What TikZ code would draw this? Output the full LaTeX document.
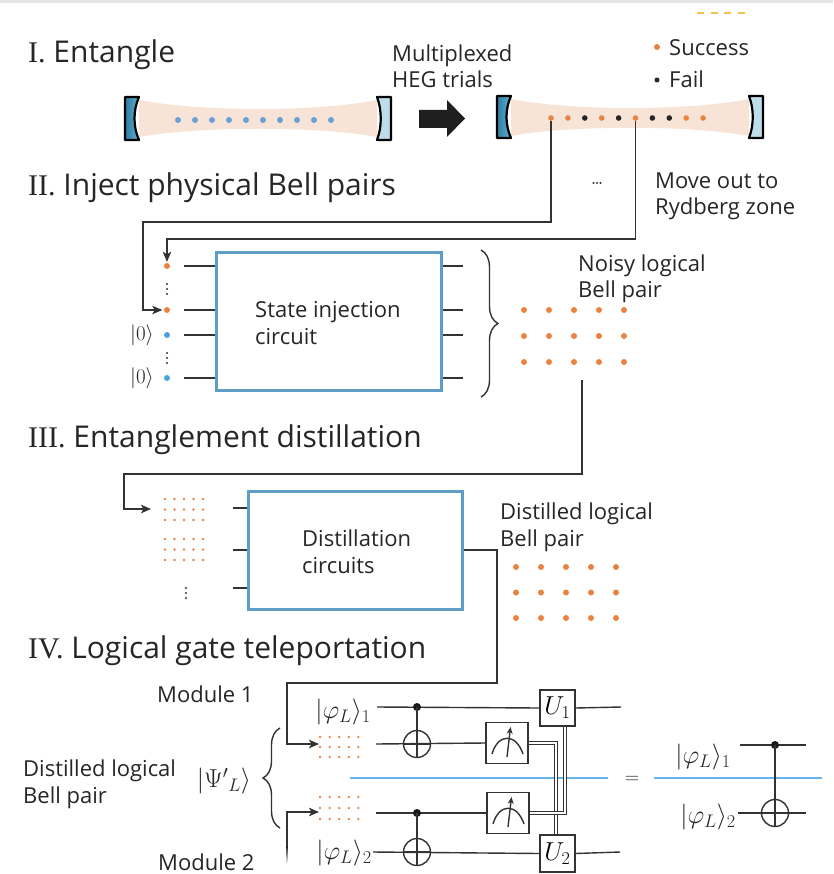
\RequirePackage{fix-cm}
\documentclass[tikz,border=0pt]{standalone}
\usepackage{fontspec}
\setmainfont{Open Sans}
\newfontfamily\romfont{Liberation Serif}
\usetikzlibrary{arrows.meta,decorations.pathreplacing,calc}

\definecolor{dotorange}{HTML}{E8843F}
\definecolor{dotblue}{HTML}{6A9FD6}
\definecolor{zeroblue}{HTML}{4DA3E0}
\definecolor{beam}{HTML}{F7E4D6}
\definecolor{mirdark}{HTML}{2F7BA6}
\definecolor{mirmid}{HTML}{5DB2CC}
\definecolor{mirlight}{HTML}{BEDDEB}
\definecolor{boxblue}{HTML}{5E9DC5}
\definecolor{splitblue}{HTML}{64B4EE}
\definecolor{linegray}{HTML}{333333}
\definecolor{textgray}{HTML}{262626}
\definecolor{gold}{HTML}{F2C14E}

\newcommand\hdfont{\fontsize{30}{34}\selectfont}
\newcommand\txfont{\fontsize{22}{26.5}\selectfont}
\newcommand\mthfont{\fontsize{26}{30}\selectfont}

\begin{document}
\begin{tikzpicture}[x=1pt,y=-1pt,
  odot/.style={circle, fill=dotorange, inner sep=0pt, minimum size=6pt},
  bdot/.style={circle, fill=dotblue, inner sep=0pt, minimum size=6pt},
  zdot/.style={circle, fill=zeroblue, inner sep=0pt, minimum size=6pt},
  kdot/.style={circle, fill=black!85, inner sep=0pt, minimum size=5pt},
  sdot/.style={circle, fill=dotorange, inner sep=0pt, minimum size=2.6pt},
  vdot/.style={circle, fill=linegray, inner sep=0pt, minimum size=2.4pt},
  conn/.style={draw=linegray, line width=1.4pt, -{Stealth[length=10pt,width=8.5pt,inset=2.5pt]}},
  wire/.style={draw=linegray, line width=1.4pt},
  cwire/.style={draw=linegray, line width=0.7pt, double=white, double distance=2pt},
  bigbox/.style={draw=boxblue, line width=3pt, fill=white, inner sep=0pt},
  gatebox/.style={draw=linegray, line width=1.4pt, fill=white, inner sep=0pt, font=\mthfont},
  ctrl/.style={circle, fill=black!90, inner sep=0pt, minimum size=8pt},
  targ/.style={circle, draw=linegray, line width=1.4pt, inner sep=0pt, minimum size=27pt},
  txt/.style={font=\txfont, text=textgray, inner sep=0pt, anchor=base west},
  hd/.style={font=\hdfont, text=textgray, inner sep=0pt, anchor=base west},
  mth/.style={font=\mthfont, text=textgray, inner sep=0pt},
  mirror/.style={draw=black, line width=2.2pt, line join=round},
  brc/.style={draw=linegray, line width=1.4pt, decorate, decoration={brace, amplitude=17pt, aspect=0.5}},
]
\useasboundingbox (0,0) rectangle (833,874);
\fill[white] (0,0) rectangle (833,874);
\draw[black!10, line width=2.5pt] (0,1.5) -- (833,1.5);
\draw[gold, line width=1.6pt, dash pattern=on 7pt off 6.7pt] (697,13) -- (746,13);

% ---------- I. Entangle ----------
\node[hd] (h1) at (28,63) {{\romfont I.} Entangle};

% first cavity: beam, mirrors, atoms
\fill[beam] (139,100) .. controls (200,112) and (318,112) .. (377,100)
   -- (377,137) .. controls (318,126) and (200,126) .. (139,137) -- cycle;
\filldraw[mirror, left color=mirdark, right color=mirmid]
   (125,97) -- (139,97) .. controls (133,110) and (133,127) .. (139,140) -- (125,140) -- cycle;
\filldraw[mirror, fill=mirlight]
   (377,97) -- (391,97) -- (391,140) -- (377,140) .. controls (382,127) and (382,110) .. (377,97) -- cycle;
\foreach \i in {0,...,9} \node[bdot] (a\i) at ({178+17*\i},120) {};

% multiplexing arrow
\node[txt, align=left] (heg) at (392,88) {Multiplexed\\HEG trials};
\fill[black!88] (419,110) -- (447,110) -- (447,100) -- (465,118.5) -- (447,137) -- (447,128) -- (419,128) -- cycle;

% second cavity with heralded outcomes
\fill[beam] (511,99) .. controls (570,111) and (690,111) .. (749,99)
   -- (749,136) .. controls (690,125) and (570,125) .. (511,136) -- cycle;
\filldraw[mirror, left color=mirdark, right color=mirmid]
   (497,96) -- (511,96) .. controls (505,109) and (505,125) .. (511,138) -- (497,138) -- cycle;
\filldraw[mirror, fill=mirlight]
   (749,96) -- (763,96) -- (763,138) -- (749,138) .. controls (754,125) and (754,109) .. (749,96) -- cycle;
\foreach \col [count=\i from 0] in {dotorange,dotorange,black!85,dotorange,black!85,dotorange,black!85,black!85,dotorange,dotorange}
  \node[circle, fill=\col, inner sep=0pt, minimum size=5.6pt] (r\i) at ({551+16.9*\i},118) {};

% legend
\node[odot] (lgo) at (657,47) {};
\node[txt] (lsucc) at (669,56) {Success};
\node[kdot] (lgk) at (657,80) {};
\node[txt] (lfail) at (669,88) {Fail};

% ---------- II. Inject physical Bell pairs ----------
\node[hd] (h2) at (28,196) {{\romfont II.} Inject physical Bell pairs};
\foreach \j in {0,1,2} \node[vdot] (ell\j) at ({593.5+3.5*\j},183) {};
\node[txt, align=left] (move) at (655,215) {Move out to\\Rydberg zone};

% input qubits of the injection circuit
\node[odot] (in1) at (167,266) {};
\node[odot] (in2) at (167,310) {};
\node[zdot] (in3) at (167,335) {};
\node[zdot] (in4) at (167,378) {};
\foreach \j in {0,1,2} {
  \node[vdot] (va\j) at (167,{284+5*\j}) {};
  \node[vdot] (vb\j) at (167,{353+5*\j}) {};
}
\node[font=\fontsize{21}{24}\selectfont, text=textgray, anchor=east, inner sep=0pt] (z1) at (154,335) {$|0\rangle$};
\node[font=\fontsize{21}{24}\selectfont, text=textgray, anchor=east, inner sep=0pt] (z2) at (154,378) {$|0\rangle$};

\node[bigbox, minimum width=225pt, minimum height=137pt] (sib) at (328.5,321.5) {};
\node[txt, align=left] (sit) at (255,344) {State injection\\circuit};
\foreach \y in {266,310,335,378} {
  \draw[wire] (184,\y) -- (sib.west |- 0,\y);
  \draw[wire] (sib.east |- 0,\y) -- (463,\y);
}
\draw[brc] (481,250) -- (481,397);

% routing of successful pairs
\coordinate (k1) at (143,222);
\coordinate (k2) at (167,239);
\draw[conn, shorten >=1.5pt] (r0.south) |- (k1) |- (in2.west);
\draw[conn, shorten >=1pt] (r5.south) |- (k2) -- (in1.north);

% noisy logical Bell pair
\node[txt, align=left] (noisy) at (578,298) {Noisy logical\\Bell pair};
\foreach \i in {0,...,4} \foreach \j in {0,1,2}
  \node[odot] (ng\i\j) at ({524+25*\i},{310+26*\j}) {};

% ---------- III. Entanglement distillation ----------
\node[hd] (h3) at (28,447) {{\romfont III.} Entanglement distillation};
\foreach \i in {0,...,4} \foreach \j in {0,1,2} {
  \node[sdot] (pa\i\j) at ({165+9.5*\i},{499+10.5*\j}) {};
  \node[sdot] (pb\i\j) at ({165+9.5*\i},{539+10.5*\j}) {};
}
\foreach \j in {0,1,2} \node[vdot] (vc\j) at (186,{588+5*\j}) {};

\coordinate (k3) at (582,380);
\coordinate (k4) at (124,474);
\coordinate (din) at (151,509);
\draw[conn] (k3) |- (k4) |- (din);

\node[bigbox, minimum width=214pt, minimum height=118pt] (dist) at (355,550) {};
\node[txt, align=left] (dct) at (302,573) {Distillation\\circuits};
\foreach \y in {508,550,588} \draw[wire] (233,\y) -- (dist.west |- 0,\y);

\node[txt, align=left] (distl) at (500,546) {Distilled logical\\Bell pair};
\foreach \i in {0,...,4} \foreach \j in {0,1,2}
  \node[odot] (dg\i\j) at ({516+25*\i},{567+25.5*\j}) {};

% ---------- IV. Logical gate teleportation ----------
\node[hd] (h4) at (28,658) {{\romfont IV.} Logical gate teleportation};
\node[txt] (mod1) at (157,702) {Module 1};
\node[txt] (mod2) at (158,870) {Module 2};
\node[txt, align=left] (dlb) at (23,803) {Distilled logical\\Bell pair};
\node[mth] (psi) at (224,781) {$|\Psi'{}_L\rangle$};
\draw[brc] (280,828) -- (280,728);

\foreach \i in {0,...,4} \foreach \j in {0,1,2} {
  \node[sdot] (qa\i\j) at ({320+9.6*\i},{737+10*\j}) {};
  \node[sdot] (qb\i\j) at ({320+9.6*\i},{797+11*\j}) {};
}

\coordinate (k5) at (497,683);
\coordinate (k6) at (287,744);
\coordinate (m1in) at (319,744);
\draw[conn] (dist.east) -| (k5) -| (k6) -- (m1in);
\coordinate (k7) at (287,848);
\coordinate (m2in) at (319,812);
\draw[conn] (k7) |- (m2in);
\fill[top color=linegray, bottom color=white] (286.3,847) rectangle (287.7,864);

% teleportation circuit
\node[mth, anchor=east] (phi1) at (371,712) {$|\varphi_L\rangle_1$};
\node[mth, anchor=east] (phi2) at (372,853) {$|\varphi_L\rangle_2$};
\node[gatebox, minimum width=35pt, minimum height=36pt] (u1) at (557.5,708) {$U_1$};
\node[gatebox, minimum width=35pt, minimum height=37pt] (u2) at (557.5,853.5) {$U_2$};
\node[gatebox, minimum width=42pt, minimum height=41pt] (m1) at (507,743) {};
\node[gatebox, minimum width=42pt, minimum height=41pt] (m2) at (508,813) {};

\draw[wire] (377,707) -- (u1.west);
\draw[wire] (u1.east) -- (621,707);
\draw[wire] (376,744) -- (m1.west);
\draw[wire] (376,813) -- (m2.west);
\draw[wire] (373,852) -- (u2.west);
\draw[wire] (u2.east) -- (620,852);

\draw[splitblue, line width=2pt] (350,778) -- (608,778);

\node[ctrl] (c1) at (417,707) {};
\node[targ] (t1) at (417,744) {};
\node[ctrl] (c2) at (417,813) {};
\node[targ] (t2) at (417,852) {};
\foreach \c/\t in {c1/t1,c2/t2} {
  \draw[wire] (\c.center) -- (\t.south);
}

% meters
\foreach \m in {m1,m2} {
  \draw[wire] ($(\m.center)+(-15,11)$) .. controls ($(\m.center)+(-9,-10)$) and ($(\m.center)+(9,-10)$) .. ($(\m.center)+(16,11)$);
  \draw[draw=linegray, line width=1.4pt, -{Stealth[length=7pt,width=6pt]}] ($(\m.center)+(0,14)$) -- ($(\m.center)+(3.5,-16)$);
}

% classical feed-forward
\draw[cwire] (m1.east) -| ($(u2.north)+(-1.5,0)$);
\draw[cwire] (m2.east) -| ($(u1.south)+(7.5,0)$);

\node[font=\fontsize{20}{24}\selectfont, text=textgray, inner sep=0pt] (eq) at (632,780) {$=$};

% equivalent CNOT
\node[mth, anchor=east] (phr1) at (731,757) {$|\varphi_L\rangle_1$};
\node[mth, anchor=east] (phr2) at (736,817) {$|\varphi_L\rangle_2$};
\draw[wire] (740,745) -- (806,745);
\draw[wire] (738,813) -- (806,813);
\draw[splitblue, line width=2pt] (654,778) -- (822,778);
\node[ctrl] (c3) at (775,745) {};
\node[targ] (t3) at (775,813) {};
\draw[wire] (c3.center) -- (t3.south);

\foreach \t in {t1,t2,t3} {
  \draw[wire] (\t.north) -- (\t.south);
  \draw[wire] (\t.west) -- (\t.east);
}
\end{tikzpicture}
\end{document}
